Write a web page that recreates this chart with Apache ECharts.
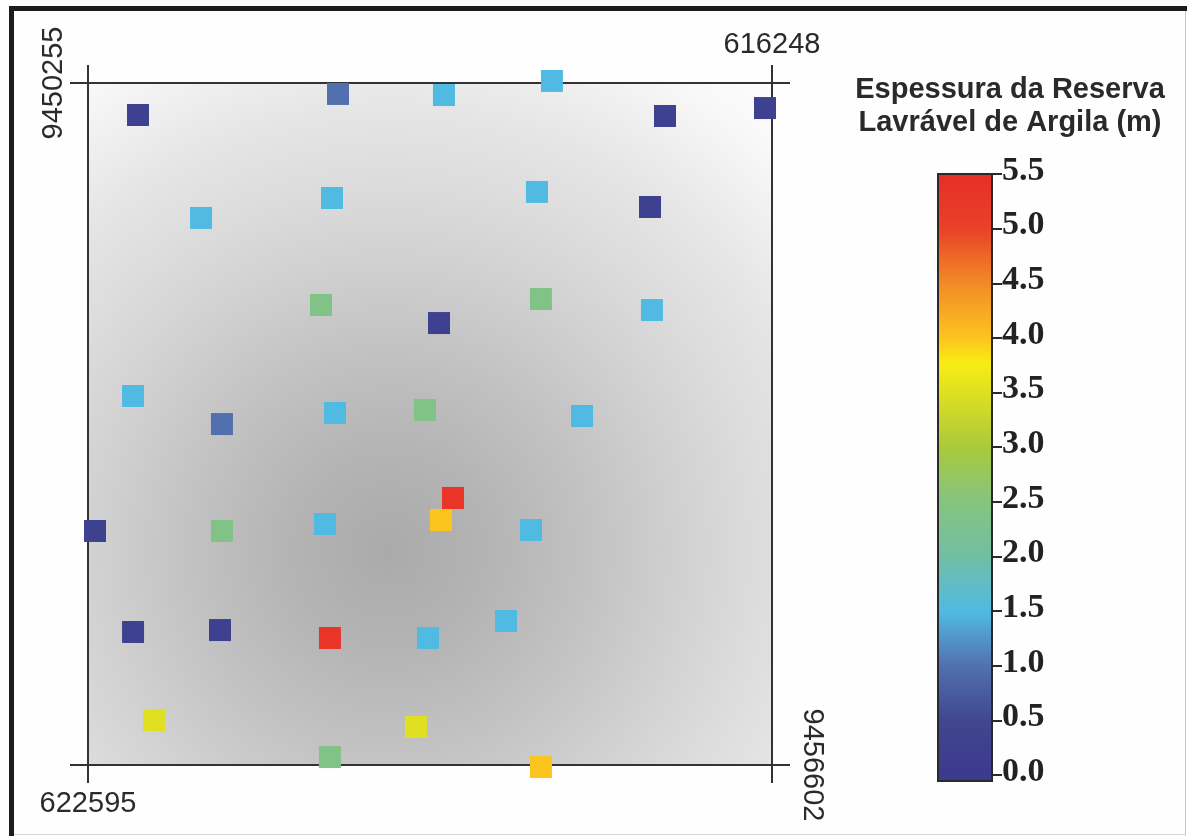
<!DOCTYPE html>
<html><head><meta charset="utf-8">
<style>html,body{margin:0;padding:0;background:#fefefe}#c{width:1187px;height:836px}</style>
<script src="https://cdn.jsdelivr.net/npm/echarts@6/dist/echarts.min.js"></script>
</head><body><div id="c"></div>
<script>
const eastings = [622131,620275,619292,618290,617241,616313,
  621546,620331,618429,617380,
  620433,618392,619338,617362,
  622177,621352,620303,619468,618011,
  619208,619320,622530,621352,620396,618484,
  622177,621370,620350,619440,618716,
  621983,619552,620350,618392];
const northings = [9450553,9450357,9450367,9450236,9450562,9450488,
  9451511,9451325,9451269,9451409,
  9452321,9452265,9452489,9452368,
  9453168,9453429,9453326,9453298,9453354,
  9454117,9454322,9454424,9454424,9454359,9454415,
  9455364,9455346,9455420,9455420,9455262,
  9456183,9456248,9456528,9456621];
const thickness = [0.3,1.0,1.5,1.5,0.3,0.3,
  1.5,1.5,1.5,0.3,
  2.4,2.4,0.3,1.5,
  1.5,1.0,1.5,2.4,1.5,
  5.3,4.0,0.3,2.4,1.5,1.5,
  0.3,0.3,5.3,1.5,1.5,
  3.5,3.5,2.4,4.0];
const eastMin = 616248, eastMax = 622595;
const northMin = 9450255, northMax = 9456602;
const scaleTicks = [0,0.5,1,1.5,2,2.5,3,3.5,4,4.5,5,5.5];
const scaleColors = ['#3b3a8e','#40468f','#5270ae','#50bae3','#72bea4','#85c47f',
                     '#aac93b','#dfe021','#fcc41f','#f18a26','#ea4028','#e62e28'];
const scaleMin = -0.055, scaleMax = 5.5;
const titleLines = ['Espessura da Reserva','Lavrável de Argila (m)'];

const chart = echarts.init(document.getElementById('c'));
const points = eastings.map((e,i)=>[e,northings[i],thickness[i]]);
const span = scaleMax - scaleMin;
const rampStops = scaleTicks.map((t,i)=>({offset:(scaleMax-t)/span,color:scaleColors[i]}));
rampStops.push({offset:(scaleMax-3.76)/span,color:'#f8ec14'});
rampStops.push({offset:1,color:scaleColors[0]});
rampStops.sort((a,b)=>a.offset-b.offset);

const line = {show:true,onZero:false,lineStyle:{color:'#333',width:2}};
const tickOf = v => ({show:true,length:18,customValues:v,lineStyle:{color:'#333',width:2}});
const coordLabel = (v,rot,m) => ({show:true,customValues:v,rotate:rot,margin:m,color:'#2a2a2a',
  fontFamily:'Liberation Sans',fontSize:29,hideOverlap:false,formatter:x=>String(x)});

chart.setOption({
  animation:false,
  backgroundColor:'#fefefe',
  title:{text:titleLines.join('\n'),left:1005,top:68,textAlign:'center',
    textStyle:{fontFamily:'Liberation Sans',fontWeight:'bold',fontSize:29,lineHeight:33,color:'#2a2a2a'}},
  grid:[
    {left:88,top:83,width:684,height:682,show:true,borderWidth:0,
     backgroundColor:new echarts.graphic.RadialGradient(0.44,0.685,0.9,[
       {offset:0,color:'#aaaaaa'},{offset:0.163,color:'#b4b4b4'},{offset:0.326,color:'#c2c2c2'},
       {offset:0.489,color:'#d2d2d2'},{offset:0.6,color:'#dcdcdc'},{offset:0.717,color:'#e5e5e5'},
       {offset:0.896,color:'#f8f8f8'},{offset:1,color:'#fdfdfd'}])},
    {left:938,top:174,width:54,height:607,show:true,borderColor:'#2a2a2a',borderWidth:2,
     backgroundColor:new echarts.graphic.LinearGradient(0,0,0,1,rampStops)}
  ],
  xAxis:[
    {type:'value',gridIndex:0,position:'bottom',inverse:true,min:eastMin,max:eastMax,splitLine:{show:false},
     axisLine:line,axisTick:tickOf([eastMin,eastMax]),axisLabel:coordLabel([eastMax],0,24)},
    {type:'value',gridIndex:0,position:'top',inverse:true,min:eastMin,max:eastMax,splitLine:{show:false},
     axisLine:line,axisTick:tickOf([eastMin,eastMax]),axisLabel:coordLabel([eastMin],0,24)},
    {type:'value',gridIndex:1,show:false,min:0,max:1}
  ],
  yAxis:[
    {type:'value',gridIndex:0,position:'left',inverse:true,min:northMin,max:northMax,splitLine:{show:false},
     axisLine:line,axisTick:tickOf([northMin,northMax]),axisLabel:coordLabel([northMin],90,20)},
    {type:'value',gridIndex:0,position:'right',inverse:true,min:northMin,max:northMax,splitLine:{show:false},
     axisLine:line,axisTick:tickOf([northMin,northMax]),axisLabel:coordLabel([northMax],-90,25)},
    {type:'value',gridIndex:1,position:'right',min:scaleMin,max:scaleMax,splitLine:{show:false},
     axisLine:{show:true,onZero:false,lineStyle:{color:'#2a2a2a',width:2}},
     axisTick:{show:true,length:10,customValues:scaleTicks,lineStyle:{color:'#2a2a2a',width:2}},
     axisLabel:{show:true,customValues:scaleTicks,margin:10,hideOverlap:false,
       formatter:v=>'{a|'+v.toFixed(1)+'}',
       rich:{a:{color:'#222',fontFamily:'Liberation Serif',fontWeight:'bold',fontSize:34,padding:[0,0,6,0]}}}}
  ],
  visualMap:{type:'continuous',show:false,seriesIndex:0,dimension:2,min:0,max:5.5,inRange:{color:scaleColors}},
  series:[{type:'scatter',xAxisIndex:0,yAxisIndex:0,clip:false,symbol:'rect',symbolSize:22,
    itemStyle:{opacity:1},data:points,z:5}],
  graphic:[
    {type:'rect',silent:true,shape:{x:9,y:6,width:1178,height:5},style:{fill:'#1c1c1c'}},
    {type:'rect',silent:true,shape:{x:9,y:6,width:5,height:830},style:{fill:'#1c1c1c'}},
    {type:'rect',silent:true,shape:{x:1185,y:11,width:1,height:825},style:{fill:'#c8c8c8'}},
    {type:'rect',silent:true,shape:{x:14,y:834,width:1172,height:1},style:{fill:'#d8d8d8'}}
  ]
});
</script></body></html>
